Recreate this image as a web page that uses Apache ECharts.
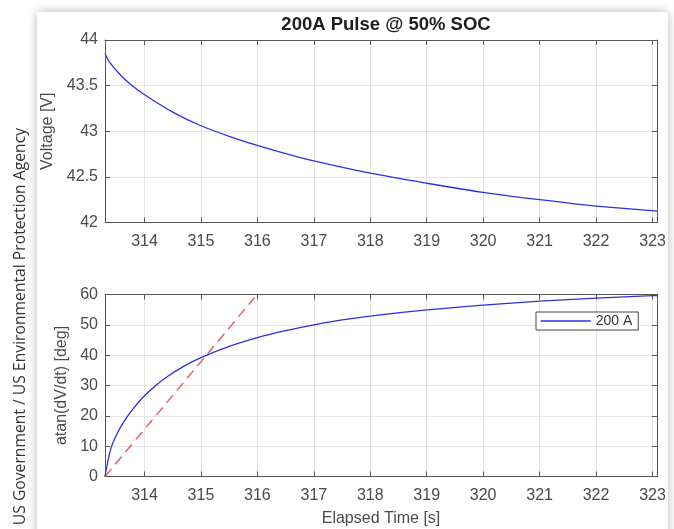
<!DOCTYPE html>
<html>
<head>
<meta charset="utf-8">
<script src="https://cdn.jsdelivr.net/npm/echarts@6/dist/echarts.min.js"></script>
<style>
  html, body { margin: 0; padding: 0; width: 674px; height: 529px; overflow: hidden; background: #ffffff; }
  #card { position: absolute; left: 37px; top: 12px; width: 631px; height: 540px; background: #ffffff;
          box-shadow: 0 0 10px rgba(0, 0, 0, 0.28); }
  #chart { position: absolute; left: 0; top: 0; width: 674px; height: 529px; }
</style>
</head>
<body>
<div id="card"></div>
<div id="chart"></div>
<script>
// Terminal voltage during the pulse
const timeV   = [313.30, 313.40, 313.60, 313.80, 314.00, 314.50, 315.00, 315.50, 316.00, 316.50, 317.00, 318.00, 319.00, 320.00, 321.00, 322.00, 323.00, 323.08];
const voltage = [43.85, 43.74, 43.60, 43.49, 43.40, 43.21, 43.06, 42.945, 42.845, 42.755, 42.675, 42.54, 42.43, 42.33, 42.25, 42.18, 42.13, 42.125];

// Slope angle of the voltage curve
const timeA = [313.30, 313.40, 313.50, 313.60, 313.70, 313.80, 314.00, 314.20, 314.40, 314.70, 315.00, 315.50, 316.00, 316.50, 317.00, 317.50, 318.00, 319.00, 320.00, 321.00, 322.00, 323.00, 323.08];
const angle = [0.0, 9.0, 13.6, 17.0, 19.9, 22.4, 26.6, 30.0, 32.9, 36.4, 39.2, 42.9, 45.8, 48.1, 50.0, 51.6, 52.9, 54.9, 56.5, 57.8, 58.8, 59.6, 59.66];

// Initial tangent (dashed reference line)
const tangentT = [313.30, 315.95];
const tangentA = [0, 59];

const xTicks = [314, 315, 316, 317, 318, 319, 320, 321, 322, 323];
const xMin = 313.3, xMax = 323.08;

const titleText = '200A Pulse @ 50% SOC';
const legendName = '200 A';
const creditText = 'US Government / US Environmental Protection Agency';

const pair = (xs, ys) => xs.map((x, i) => [x, ys[i]]);

const boxColor = '#555555';
const gridColor = '#e4e4e4';
const labelColor = '#4a4a4a';
const fontFamily = '"Liberation Sans", Arial, sans-serif';

function xAxisCfg(gridIndex, position, showLabels, name) {
  return {
    type: 'value', gridIndex, position, min: xMin, max: xMax,
    axisLine: { show: true, onZero: false, lineStyle: { color: boxColor, width: 1 } },
    axisTick: { show: true, inside: true, length: 5, customValues: xTicks, lineStyle: { color: boxColor } },
    axisLabel: { show: showLabels, customValues: xTicks, color: labelColor, fontSize: 16, fontFamily, margin: 11 },
    splitLine: { show: position === 'bottom', lineStyle: { color: gridColor, width: 1 } },
    name: name || '', nameLocation: 'middle', nameGap: 34,
    nameTextStyle: { color: labelColor, fontSize: 16, fontFamily }
  };
}

function yAxisCfg(gridIndex, position, min, max, interval, showLabels, name, nameGap) {
  return {
    type: 'value', gridIndex, position, min, max, interval,
    axisLine: { show: true, lineStyle: { color: boxColor, width: 1 } },
    axisTick: { show: true, inside: true, length: 5, lineStyle: { color: boxColor } },
    axisLabel: { show: showLabels, color: labelColor, fontSize: 16, fontFamily, margin: 7 },
    splitLine: { show: position === 'left', lineStyle: { color: gridColor, width: 1 } },
    name: name || '', nameLocation: 'middle', nameGap: nameGap || 0,
    nameTextStyle: { color: labelColor, fontSize: 16, fontFamily }
  };
}

const chart = echarts.init(document.getElementById('chart'), null, { renderer: 'canvas' });

chart.setOption({
  animation: false,
  title: {
    text: titleText, left: 381, top: 10, textAlign: 'center',
    textStyle: { fontSize: 18.5, fontWeight: 'bold', color: '#1e1e1e', fontFamily }
  },
  legend: {
    data: [legendName], left: 536, top: 312, orient: 'vertical',
    backgroundColor: '#ffffff', borderColor: '#444444', borderWidth: 1, borderRadius: 0,
    padding: [2, 6, 2, 4], itemWidth: 50, itemHeight: 12, itemGap: 4,
    itemStyle: { opacity: 0 },
    lineStyle: { color: '#2f2fe6', width: 1.3 },
    textStyle: { color: '#333333', fontSize: 14, fontFamily }
  },
  grid: [
    { left: 105, top: 40, right: 17, height: 182.5 },
    { left: 105, top: 294.5, right: 17, height: 182 }
  ],
  xAxis: [
    xAxisCfg(0, 'bottom', true),
    xAxisCfg(0, 'top', false),
    xAxisCfg(1, 'bottom', true, 'Elapsed Time [s]'),
    xAxisCfg(1, 'top', false)
  ],
  yAxis: [
    yAxisCfg(0, 'left', 42, 44, 0.5, true, 'Voltage [V]', 48),
    yAxisCfg(0, 'right', 42, 44, 0.5, false),
    yAxisCfg(1, 'left', 0, 60, 10, true, 'atan(dV/dt) [deg]', 34),
    yAxisCfg(1, 'right', 0, 60, 10, false)
  ],
  graphic: [{
    type: 'text', left: 13, top: 128, rotation: Math.PI / 2,
    style: { text: creditText, fill: '#333333', fontSize: 15.7, fontFamily: '"Open Sans", sans-serif' }
  }],
  series: [
    {
      name: 'Voltage', type: 'line', xAxisIndex: 0, yAxisIndex: 0,
      data: pair(timeV, voltage), symbol: 'none', smooth: 0.3,
      lineStyle: { color: '#2f2fe6', width: 1.3 }, itemStyle: { color: '#2f2fe6' }, z: 3
    },
    {
      name: 'Tangent', type: 'line', xAxisIndex: 2, yAxisIndex: 2,
      data: pair(tangentT, tangentA), symbol: 'none',
      lineStyle: { color: '#e35d5d', width: 1.4, type: [10, 6] }, z: 3
    },
    {
      name: legendName, type: 'line', xAxisIndex: 2, yAxisIndex: 2,
      data: pair(timeA, angle), symbol: 'none', smooth: 0.3,
      lineStyle: { color: '#2f2fe6', width: 1.3 }, itemStyle: { color: '#2f2fe6' }, z: 4
    }
  ]
});
</script>
</body>
</html>
